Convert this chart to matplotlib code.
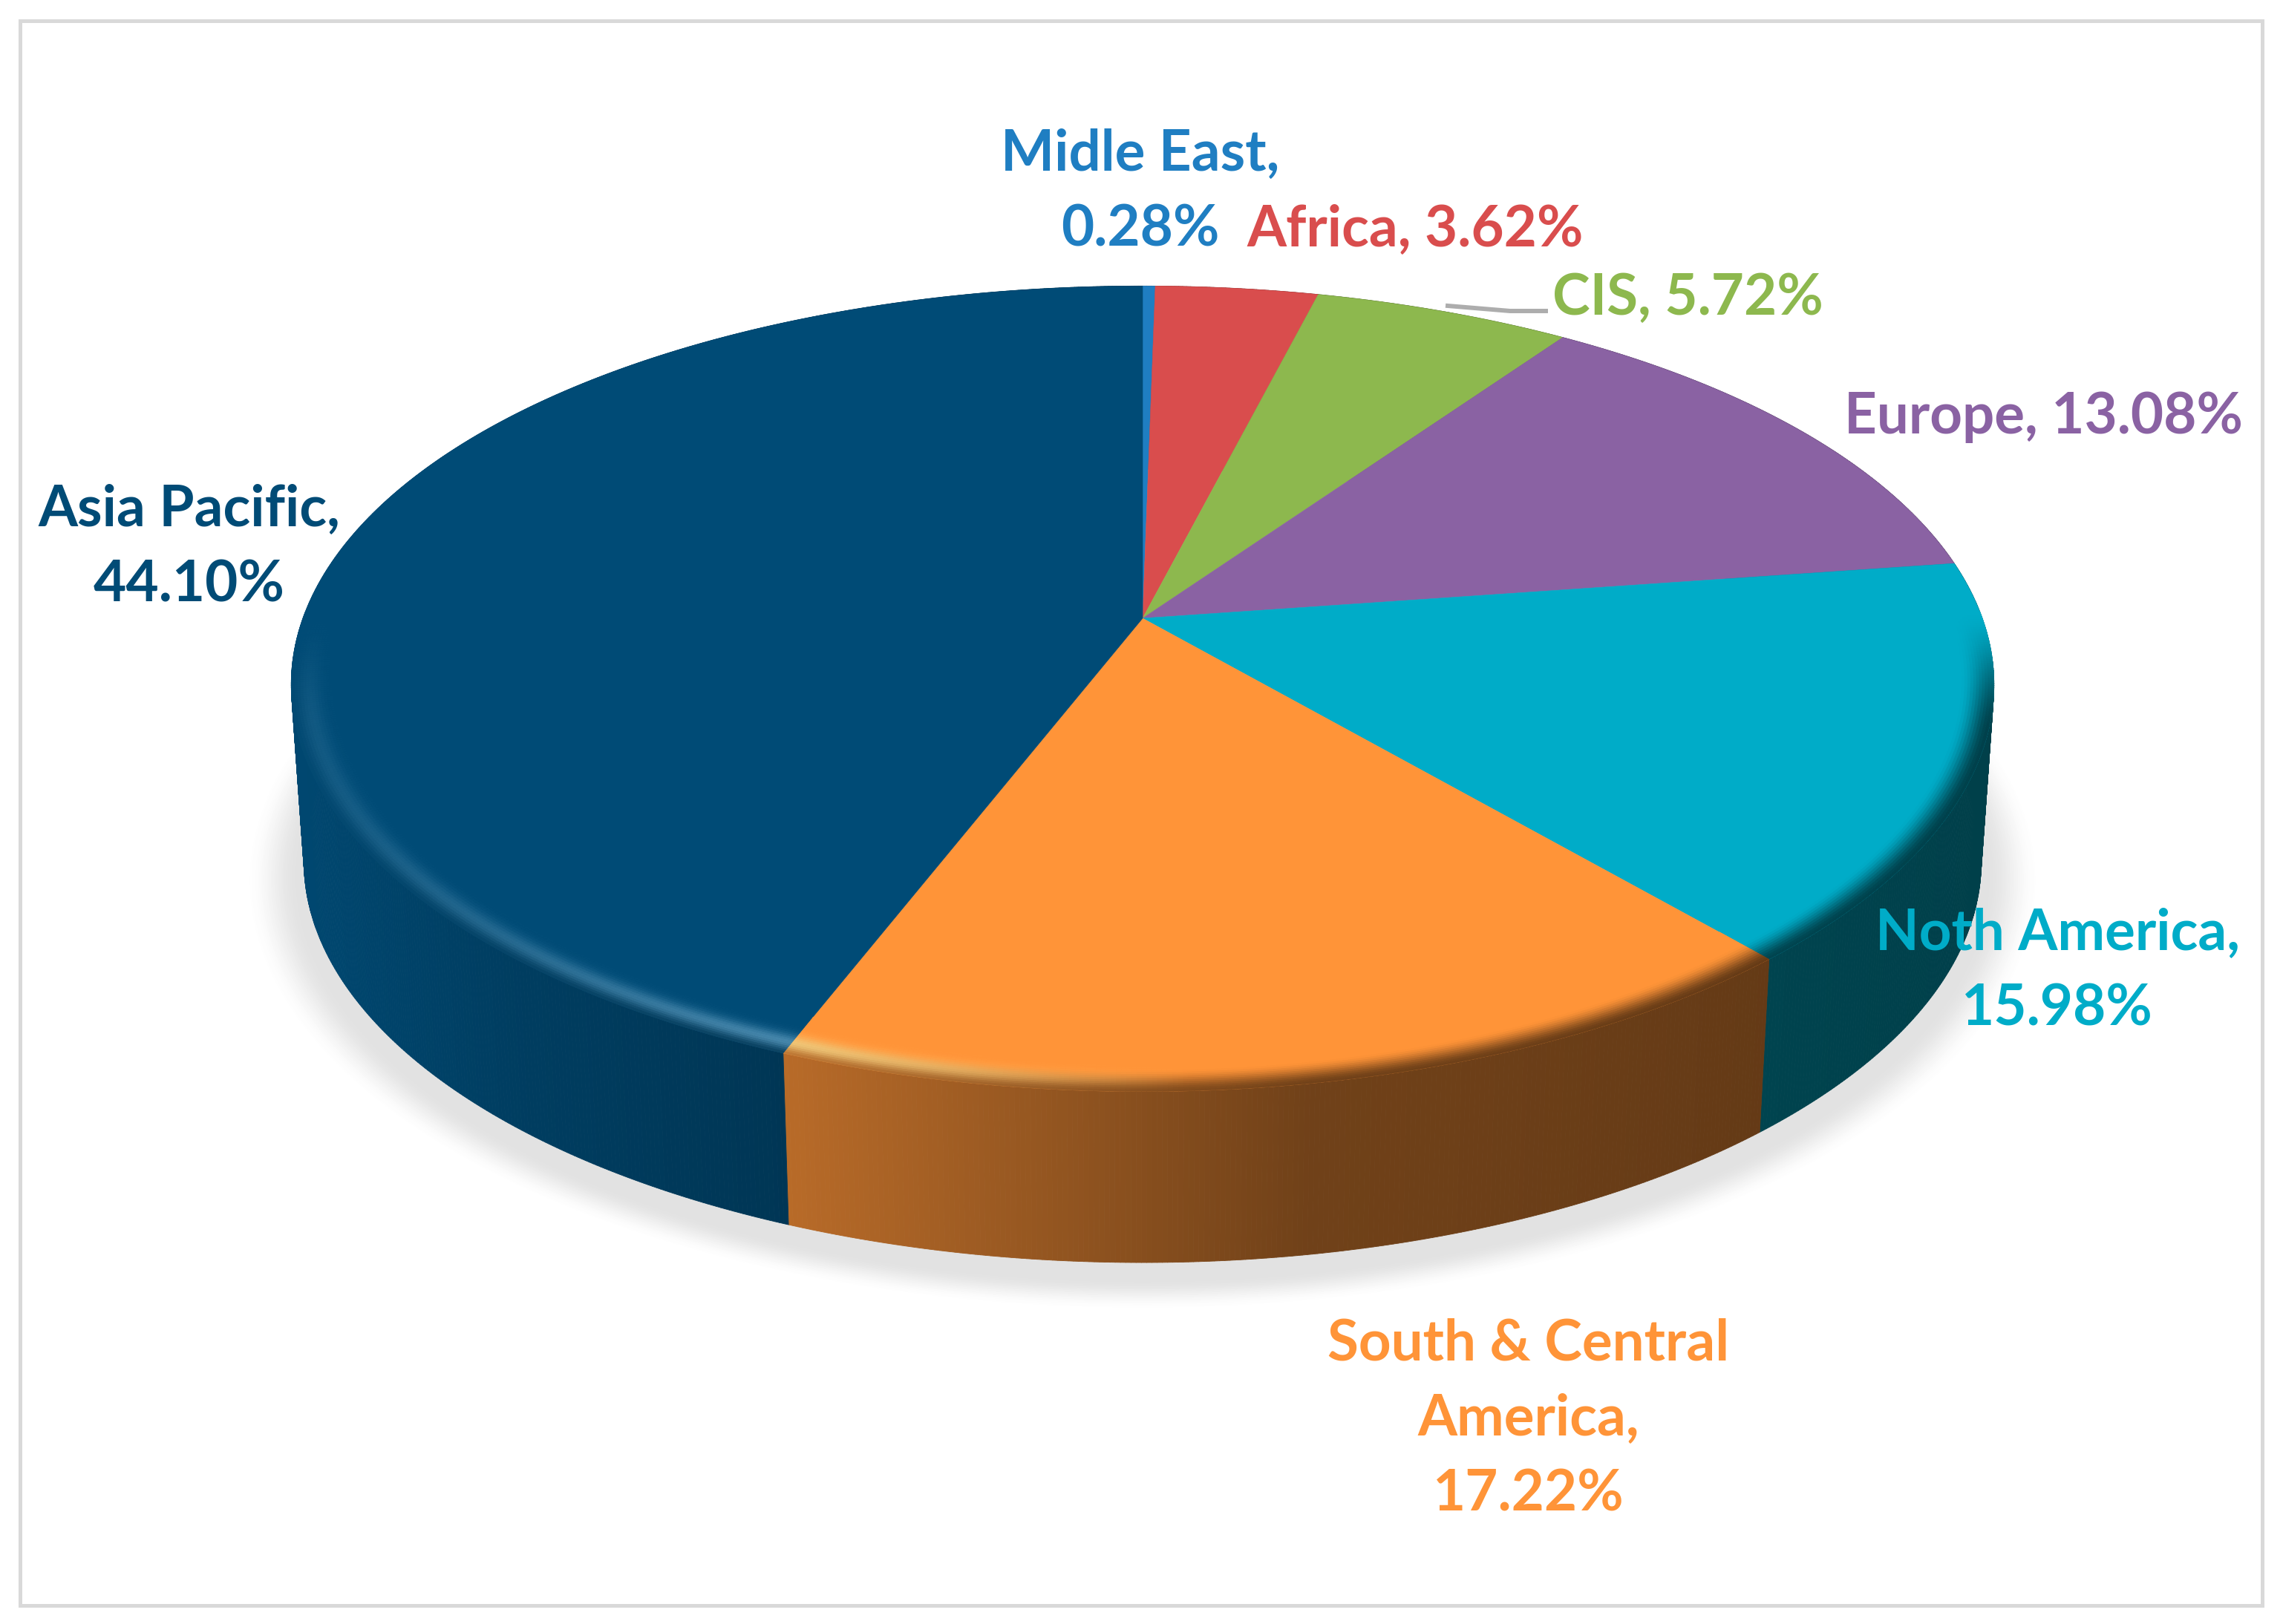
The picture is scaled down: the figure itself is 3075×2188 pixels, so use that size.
import numpy as np
import matplotlib
matplotlib.use('Agg')
import matplotlib.pyplot as plt
from matplotlib.collections import PolyCollection
from matplotlib.patches import Rectangle

plt.rcParams['font.family'] = ['Lato', 'DejaVu Sans']

regions = ['Midle East', 'Africa', 'CIS', 'Europe', 'Noth America', 'South & Central America', 'Asia Pacific']
shares = [0.28, 3.62, 5.72, 13.08, 15.98, 17.22, 44.10]
colors = ['#1F7EC2', '#D94D4D', '#8DB84E', '#8A62A3', '#00ACC8', '#FF9438', '#004B76']
label_text = ['Midle East,\n0.28%', 'Africa, 3.62%', 'CIS, 5.72%', 'Europe, 13.08%',
              'Noth America,\n15.98%', 'South & Central\nAmerica,\n17.22%', 'Asia Pacific,\n44.10%']
label_x = [1536, 1906, 2273, 2752, 2771, 2059, 255]
label_y = [259, 310, 402, 562, 1309, 1912, 738]

# pie geometry, full size pixels
CX, CY = 1539, 833
A, B, K, KX = 1131, 526, 0.175, 0.165
DEPTH, SHRINK = 240, 0.985


def rgb(hexcol):
    return np.array(matplotlib.colors.to_rgb(hexcol))


def project(theta, r=1.0, dy=0.0, scale=1.0):
    u, v = r * np.sin(theta), r * np.cos(theta)
    return CX + scale * A * u / (1 + KX * v), CY + dy + scale * B * -v / (1 + K * v)


def side_shade(x):
    return np.interp(x, [400, 690, 1060, 1765, 1960, 2670], [0.95, 0.82, 0.72, 0.44, 0.43, 0.37])


def smooth(t):
    t = np.clip(t, 0, 1)
    return t * t * (3 - 2 * t)


fig = plt.figure(figsize=(30.75, 21.88), dpi=100)
ax = fig.add_axes([0, 0, 1, 1])
ax.set_xlim(0, 3075)
ax.set_ylim(2188, 0)
ax.axis('off')

# frame
ax.add_patch(Rectangle((27, 28), 3020, 2135, fill=False, ec='#D9D9D9', lw=3.6))

# soft shadow under the pie
circle = np.linspace(0, 2 * np.pi, 361)
for s in np.linspace(0, 1, 30):
    sx, sy = project(circle, dy=DEPTH + 20, scale=1.055 - 0.065 * s)
    grey = 1 - (1 - 0.885) * smooth(s)
    ax.fill(sx, sy, color=(grey, grey, grey), lw=0, zorder=1)

edges = np.cumsum([0] + shares) / sum(shares) * 2 * np.pi

# side wall
side_polys, side_cols = [], []
for i, col in enumerate(colors):
    th = np.linspace(edges[i], edges[i + 1], max(4, int(shares[i] * 12)))
    x0, y0 = project(th)
    x1, y1 = project(th, dy=DEPTH, scale=SHRINK)
    for j in range(len(th) - 1):
        side_polys.append([(x0[j], y0[j]), (x0[j + 1], y0[j + 1]), (x1[j + 1], y1[j + 1]), (x1[j], y1[j])])
        side_cols.append(rgb(col) * side_shade((x0[j] + x0[j + 1]) / 2))
ax.add_collection(PolyCollection(side_polys, facecolors=side_cols, edgecolors=side_cols, linewidths=0.6, zorder=2))

# flat top
for i, col in enumerate(colors):
    th = np.linspace(edges[i], edges[i + 1], max(4, int(shares[i] * 12)))
    tx, ty = project(th)
    ax.fill(np.r_[CX, tx], np.r_[CY, ty], color=col, lw=0.4, zorder=3)

# rounded rim on the front of the top
rings = np.linspace(0.93, 1.0, 22)
rim_polys, rim_cols = [], []
for i, col in enumerate(colors):
    base = rgb(col)
    th = np.linspace(edges[i], edges[i + 1], max(4, int(shares[i] * 12)))
    for j in range(len(th) - 1):
        tm = (th[j] + th[j + 1]) / 2
        w = smooth((-np.cos(tm) + 0.02) / 0.3)
        if w <= 0:
            continue
        for k in range(len(rings) - 1):
            xa, ya = project(th[j:j + 2], rings[k])
            xb, yb = project(th[j:j + 2], rings[k + 1])
            t = (rings[k] + rings[k + 1] - 2 * 0.93) / 2 / 0.07
            xm = (xa[0] + xa[1]) / 2
            dark = base * side_shade(xm)
            glow = np.interp(xm, [400, 690, 1060, 1300, 1600], [0.12, 0.30, 0.55, 0.35, 0.0])
            mix = smooth((t - 0.45) / 0.55)
            c = base * (1 - mix) + dark * mix
            h = glow * np.exp(-((t - 0.72) / 0.2) ** 2)
            c = c * (1 - h) + np.clip(0.85 * base + 0.5, 0, 1) * h
            c = np.clip(base * (1 - w) + c * w, 0, 1)
            rim_polys.append([(xa[0], ya[0]), (xa[1], ya[1]), (xb[1], yb[1]), (xb[0], yb[0])])
            rim_cols.append(c)
ax.add_collection(PolyCollection(rim_polys, facecolors=rim_cols, edgecolors=rim_cols, linewidths=0.5, zorder=4))

# leader for CIS
ax.plot([1950, 2034, 2082], [412, 419, 419], color='#ADADAD', lw=4.3, zorder=5)

for txt, lx, ly, col in zip(label_text, label_x, label_y, colors):
    ax.text(lx, ly, txt, color=col, fontsize=55, fontweight='bold', ha='center', va='center',
            linespacing=1.555, zorder=6)

fig.savefig('out.png', dpi=100)
